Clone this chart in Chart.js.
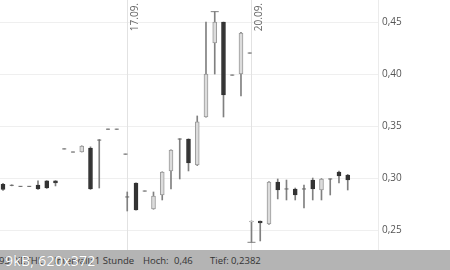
<!DOCTYPE html>
<html>
<head>
<meta charset="utf-8">
<script src="https://cdn.jsdelivr.net/npm/chart.js@4.4.0/dist/chart.umd.min.js"></script>
<style>
  body { margin: 0; width: 450px; height: 270px; overflow: hidden; background: #fff; font-family: "Open Sans", sans-serif; }
  #wrap { position: relative; width: 450px; height: 270px; }
  #footer { position: absolute; left: 0; top: 250px; width: 450px; height: 20px; background: #b4b4b4; color: #333; font-size: 9.5px; }
  #footer span { position: absolute; top: 4px; white-space: nowrap; }
  #mark { position: absolute; left: 5px; top: 251px; color: #fff; font-size: 14px; letter-spacing: 0.3px; text-shadow: 0 0 1px #888; }
</style>
</head>
<body>
<div id="wrap">
  <canvas id="chart" width="450" height="250"></canvas>
  <div id="footer">
    <span style="left:-1px">93, XETHL</span>
    <span style="left:54px">Intervall: 1 Stunde</span>
    <span style="left:143px">Hoch:</span>
    <span style="left:174px">0,46</span>
    <span style="left:210px">Tief: 0,2382</span>
  </div>
  <div id="mark">9kB, 620x372</div>
</div>
<script>
// Zeitposition je Kerze (Stundenindex, Tage eng aneinander)
const slots = [0, 1, 2, 3, 4, 5, 6, 7, 8, 9, 10, 11, 12, 13, 14,
  14.2, 15.2, 16.2, 17.2, 18.2, 19.2, 20.2, 21.2, 22.2, 23.2, 24.2, 25.2, 26.2, 27.2, 28.2,
  28.4, 29.4, 30.4, 31.4, 32.4, 33.4, 34.4, 35.4, 36.4, 37.4, 38.4, 39.4];

const opens = [0.294, 0.293, 0.292, 0.292, 0.2933, 0.2972, 0.2972, 0.328, 0.325, 0.325, 0.3289, 0.3365, 0.347, 0.347, 0.323,
  0.2818, 0.2952, 0.2875, 0.2702, 0.2837, 0.3068, 0.3375, 0.3375, 0.3125, 0.3587, 0.43, 0.45, 0.399, 0.40, 0.4202,
  0.2578, 0.2587, 0.2558, 0.2962, 0.2895, 0.2895, 0.2895, 0.2981, 0.2885, 0.2991, 0.3058, 0.3029];
const highs = [0.295, 0.2935, 0.292, 0.292, 0.2972, 0.2975, 0.2975, 0.328, 0.325, 0.331, 0.330, 0.337, 0.347, 0.347, 0.323,
  0.2866, 0.2955, 0.2875, 0.2866, 0.306, 0.3272, 0.3378, 0.3377, 0.3597, 0.45, 0.46, 0.45, 0.399, 0.44, 0.4202,
  0.2587, 0.2587, 0.2965, 0.2991, 0.2981, 0.2904, 0.2933, 0.300, 0.2995, 0.2991, 0.3068, 0.3035];
const lows = [0.288, 0.2925, 0.292, 0.292, 0.289, 0.290, 0.2924, 0.328, 0.325, 0.325, 0.289, 0.2904, 0.347, 0.347, 0.323,
  0.2683, 0.269, 0.2875, 0.270, 0.2789, 0.2895, 0.2991, 0.3068, 0.312, 0.3585, 0.40, 0.3587, 0.399, 0.3789, 0.4202,
  0.2382, 0.2395, 0.2555, 0.2799, 0.2789, 0.2789, 0.2712, 0.2789, 0.2789, 0.2837, 0.2952, 0.2885];
const closes = [0.289, 0.293, 0.292, 0.292, 0.2895, 0.2904, 0.2952, 0.328, 0.325, 0.3308, 0.2895, 0.3365, 0.347, 0.347, 0.323,
  0.2818, 0.2693, 0.2875, 0.2827, 0.3058, 0.327, 0.3375, 0.3145, 0.354, 0.40, 0.45, 0.3799, 0.399, 0.4395, 0.4202,
  0.2587, 0.2568, 0.2962, 0.2885, 0.2895, 0.2837, 0.2895, 0.2895, 0.2991, 0.2991, 0.302, 0.2981];

const dayStarts = [14.2, 28.4];
const dayLabels = ['17.09.', '20.09.'];
const yTicks = [0.25, 0.30, 0.35, 0.40, 0.45];
const periodHigh = { x: 24.2, y: 0.46 };
const periodLow = { x: 28.4, y: 0.2382 };

const DARK = '#333333';
const LIGHT = '#dcdcdc';
const LIGHT_BORDER = '#999999';
const WICK = '#808080';

const wickData = slots.map((x, i) => ({ x: x, y: [lows[i], highs[i]] }));
const bodyData = [];
const bodyFill = [];
const bodyBorder = [];
const dojiData = [];
slots.forEach((x, i) => {
  if (Math.abs(opens[i] - closes[i]) < 0.0004) {
    dojiData.push({ x: x, y: opens[i] });
  } else {
    bodyData.push({ x: x, y: [opens[i], closes[i]] });
    const down = closes[i] < opens[i];
    bodyFill.push(down ? DARK : LIGHT);
    bodyBorder.push(down ? DARK : LIGHT_BORDER);
  }
});

// Tagestrenner mit Datum
const dayLines = {
  id: 'dayLines',
  beforeDatasetsDraw(chart) {
    const { ctx, chartArea, scales } = chart;
    ctx.save();
    dayStarts.forEach((d, i) => {
      const px = Math.round(scales.x.getPixelForValue(d)) + 0.5;
      ctx.strokeStyle = '#e2e2e2';
      ctx.lineWidth = 1;
      ctx.beginPath();
      ctx.moveTo(px, chartArea.top);
      ctx.lineTo(px, chartArea.bottom);
      ctx.stroke();
      ctx.save();
      ctx.translate(px + 3, 3);
      ctx.rotate(-Math.PI / 2);
      ctx.fillStyle = '#666';
      ctx.font = '10px "Open Sans"';
      ctx.textAlign = 'right';
      ctx.textBaseline = 'top';
      ctx.fillText(dayLabels[i], 0, 0);
      ctx.restore();
    });
    ctx.restore();
  }
};

const ctx = document.getElementById('chart').getContext('2d');
new Chart(ctx, {
  type: 'bar',
  data: {
    datasets: [
      {
        type: 'scatter',
        data: [periodHigh, periodLow],
        pointStyle: 'line',
        radius: 4,
        borderColor: WICK,
        borderWidth: 1,
        order: 0
      },
      {
        type: 'scatter',
        data: dojiData,
        pointStyle: 'line',
        radius: 2,
        borderColor: '#666',
        borderWidth: 1,
        order: 0
      },
      {
        data: bodyData,
        backgroundColor: bodyFill,
        borderColor: bodyBorder,
        borderWidth: 1,
        borderSkipped: false,
        barThickness: 4,
        grouped: false,
        order: 1
      },
      {
        data: wickData,
        backgroundColor: WICK,
        barThickness: 1,
        grouped: false,
        order: 2
      }
    ]
  },
  options: {
    responsive: false,
    animation: false,
    layout: { padding: 0, autoPadding: false },
    plugins: {
      legend: { display: false },
      tooltip: { enabled: false }
    },
    scales: {
      x: {
        type: 'linear',
        display: false,
        offset: false,
        min: -0.343,
        max: 42.86
      },
      y: {
        position: 'right',
        min: 0.2308,
        max: 0.4712,
        border: { color: '#ebebeb' },
        grid: { color: '#efefef', drawTicks: false },
        afterBuildTicks(axis) {
          axis.ticks = yTicks.map(v => ({ value: v }));
        },
        afterFit(axis) {
          axis.width = 72;
          axis.paddingTop = 0;
          axis.paddingBottom = 0;
        },
        ticks: {
          padding: 4,
          color: '#555',
          font: { family: 'Open Sans', size: 10 },
          callback: v => v.toFixed(2).replace('.', ',')
        }
      }
    }
  },
  plugins: [dayLines]
});
</script>
</body>
</html>
